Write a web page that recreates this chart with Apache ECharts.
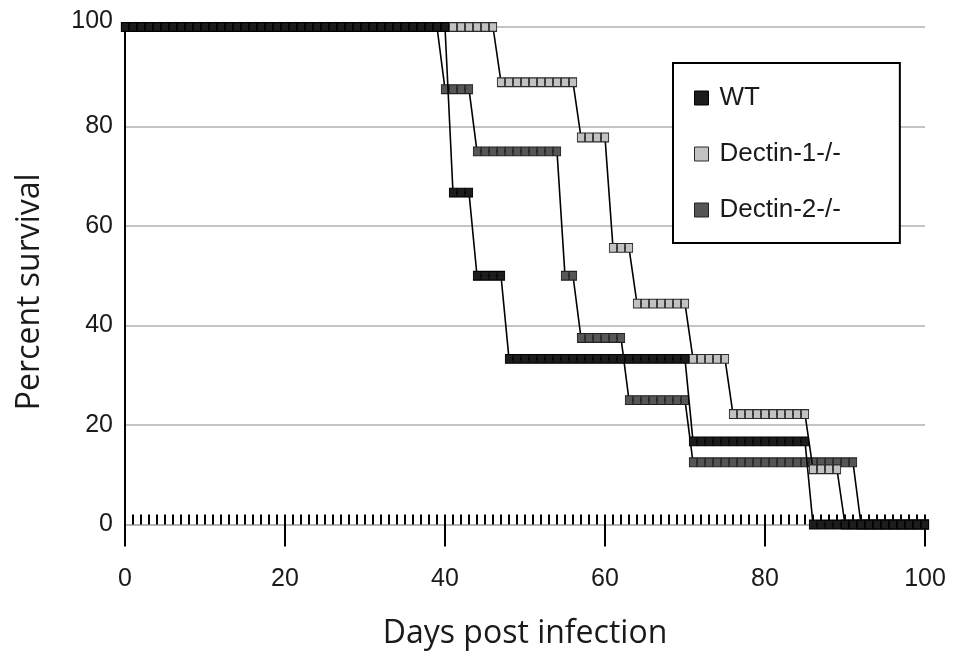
<!DOCTYPE html>
<html>
<head>
<meta charset="utf-8">
<script src="https://cdn.jsdelivr.net/npm/echarts@6/dist/echarts.min.js"></script>
<style>
html,body{margin:0;padding:0;background:#fff;}
#chart{width:959px;height:657px;}
</style>
</head>
<body>
<div id="chart"></div>
<script>
// Days post infection (one observation per day)
const days = [
  0,1,2,3,4,5,6,7,8,9,
  10,11,12,13,14,15,16,17,18,19,
  20,21,22,23,24,25,26,27,28,29,
  30,31,32,33,34,35,36,37,38,39,
  40,41,42,43,44,45,46,47,48,49,
  50,51,52,53,54,55,56,57,58,59,
  60,61,62,63,64,65,66,67,68,69,
  70,71,72,73,74,75,76,77,78,79,
  80,81,82,83,84,85,86,87,88,89,
  90,91,92,93,94,95,96,97,98,99,
  100
];

// Percent survival, WT
const wt = [
  100,100,100,100,100,100,100,100,100,100,
  100,100,100,100,100,100,100,100,100,100,
  100,100,100,100,100,100,100,100,100,100,
  100,100,100,100,100,100,100,100,100,100,
  100,66.7,66.7,66.7,50,50,50,50,33.3,33.3,
  33.3,33.3,33.3,33.3,33.3,33.3,33.3,33.3,33.3,33.3,
  33.3,33.3,33.3,33.3,33.3,33.3,33.3,33.3,33.3,33.3,
  33.3,16.7,16.7,16.7,16.7,16.7,16.7,16.7,16.7,16.7,
  16.7,16.7,16.7,16.7,16.7,16.7,0,0,0,0,
  0,0,0,0,0,0,0,0,0,0,
  0
];

// Percent survival, Dectin-1-/-
const dectin1 = [
  100,100,100,100,100,100,100,100,100,100,
  100,100,100,100,100,100,100,100,100,100,
  100,100,100,100,100,100,100,100,100,100,
  100,100,100,100,100,100,100,100,100,100,
  100,100,100,100,100,100,100,88.9,88.9,88.9,
  88.9,88.9,88.9,88.9,88.9,88.9,88.9,77.8,77.8,77.8,
  77.8,55.6,55.6,55.6,44.4,44.4,44.4,44.4,44.4,44.4,
  44.4,33.3,33.3,33.3,33.3,33.3,22.2,22.2,22.2,22.2,
  22.2,22.2,22.2,22.2,22.2,22.2,11.1,11.1,11.1,11.1,
  0,0,0,0,0,0,0,0,0,0,
  0
];

// Percent survival, Dectin-2-/-
const dectin2 = [
  100,100,100,100,100,100,100,100,100,100,
  100,100,100,100,100,100,100,100,100,100,
  100,100,100,100,100,100,100,100,100,100,
  100,100,100,100,100,100,100,100,100,100,
  87.5,87.5,87.5,87.5,75,75,75,75,75,75,
  75,75,75,75,75,50,50,37.5,37.5,37.5,
  37.5,37.5,37.5,25,25,25,25,25,25,25,
  25,12.5,12.5,12.5,12.5,12.5,12.5,12.5,12.5,12.5,
  12.5,12.5,12.5,12.5,12.5,12.5,12.5,12.5,12.5,12.5,
  12.5,12.5,0,0,0,0,0,0,0,0,
  0
];

const seriesNames = ['WT', 'Dectin-1-/-', 'Dectin-2-/-'];

const fills = { 'WT': '#1c1c1c', 'Dectin-1-/-': '#c2c2c2', 'Dectin-2-/-': '#565656' };
const borders = { 'WT': '#000000', 'Dectin-1-/-': '#2a2a2a', 'Dectin-2-/-': '#222222' };

function mk(name, vals, z) {
  return {
    name: name,
    type: 'line',
    xAxisIndex: 0,
    yAxisIndex: 0,
    data: days.map((d, i) => [d, vals[i]]),
    symbol: 'rect',
    symbolSize: [7.2, 8.8],
    showAllSymbol: true,
    clip: true,
    z: z,
    lineStyle: { color: '#000', width: 1.6 },
    itemStyle: { color: fills[name], borderColor: borders[name], borderWidth: 1 },
    emphasis: { disabled: true },
    animation: false
  };
}

const chart = echarts.init(document.getElementById('chart'), null, { renderer: 'canvas' });
chart.setOption({
  animation: false,
  backgroundColor: '#ffffff',
  grid: { left: 125, right: 34, top: 27, bottom: 132.5, containLabel: false },
  xAxis: [
    {
      type: 'value', min: 0, max: 100, interval: 20, position: 'bottom',
      name: 'Days post infection', nameLocation: 'middle', nameGap: 93,
      nameTextStyle: { fontFamily: 'Open Sans', fontSize: 32, color: '#1a1a1a' },
      axisLine: { show: true, lineStyle: { color: '#b0b0b0', width: 1.5 } },
      axisTick: { show: true, inside: false, length: 22, lineStyle: { color: '#000', width: 2 } },
      axisLabel: { margin: 42, fontFamily: 'Liberation Sans', fontSize: 25, color: '#1a1a1a' },
      splitLine: { show: false }
    },
    {
      type: 'value', min: 0, max: 100, interval: 1, position: 'bottom', offset: 0,
      axisLine: { show: false },
      axisTick: { show: true, inside: true, length: 10, lineStyle: { color: '#000', width: 2 } },
      axisLabel: { show: false },
      splitLine: { show: false }
    }
  ],
  yAxis: {
    type: 'value', min: 0, max: 100, interval: 20,
    name: 'Percent survival', nameLocation: 'middle', nameGap: 79, nameRotate: 90,
    nameTextStyle: { fontFamily: 'Open Sans', fontSize: 32, color: '#1a1a1a', padding: [0, 32, 0, 0] },
    axisLine: { show: true, lineStyle: { color: '#000', width: 2 } },
    axisTick: { show: false },
    axisLabel: {
      margin: 12, fontFamily: 'Liberation Sans', fontSize: 25, color: '#1a1a1a',
      formatter: function (v) { return v === 100 ? '{top|100}' : String(v); },
      rich: { top: { fontFamily: 'Liberation Sans', fontSize: 25, color: '#1a1a1a', padding: [0, 0, 12, 0] } }
    },
    splitLine: { show: true, lineStyle: { color: '#b0b0b0', width: 1.5 } }
  },
  legend: {
    show: true,
    orient: 'vertical',
    left: 673, top: 63,
    padding: [22, 59, 20, 21],
    itemGap: 30,
    itemWidth: 14, itemHeight: 14,
    icon: 'rect',
    borderColor: '#000', borderWidth: 2,
    backgroundColor: '#fff',
    textStyle: { fontFamily: 'Liberation Sans', fontSize: 26, color: '#1a1a1a', lineHeight: 26, padding: [0, 0, 0, 6] },
    data: seriesNames.map(n => ({ name: n, itemStyle: { color: fills[n], borderColor: borders[n], borderWidth: 1 } }))
  },
  series: [
    mk('Dectin-2-/-', dectin2, 2),
    mk('Dectin-1-/-', dectin1, 3),
    mk('WT', wt, 4)
  ]
});
</script>
</body>
</html>
